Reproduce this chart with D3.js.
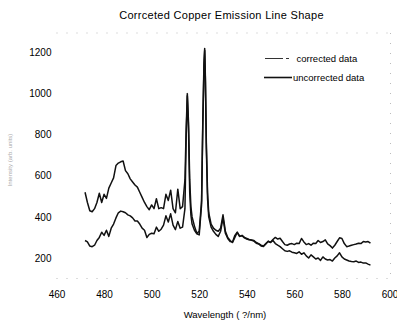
<!DOCTYPE html>
<html><head><meta charset="utf-8">
<script src="https://cdn.jsdelivr.net/npm/d3@7"></script>
<style>
html,body{margin:0;padding:0;background:#fff;}
svg{display:block;font-family:"Liberation Sans",Arial,sans-serif;}
</style></head><body>
<svg id="c" width="397" height="325"></svg>
<script>
const wavelength = [472,473,474,475,476,477,478,479,480,481,482,483,484,485,486,487,488,489,490,491,492,493,494,495,496,497,498,499,500,501,502,503,504,505,506,507,508,509,510,511,512,513,514,514.5,515,515.5,516,516.5,517,518,519,520,521,521.5,522,522.3,522.6,523,523.5,524,525,526,527,528,529,530,531,532,533,534,535,536,537,538,539,540,541,542,543,544,545,546,547,548,549,550,551,552,553,554,555,556,557,558,559,560,561,562,563,564,565,566,567,568,569,570,571,572,573,574,575,576,577,578,579,580,581,582,583,584,585,586,587,588,589,590,591,592];
const corrected = [520,470,430,425,440,470,515,470,510,490,540,565,590,650,662,668,672,625,610,585,570,555,545,520,495,470,450,435,458,440,488,440,445,440,510,480,530,440,420,535,440,450,580,820,1000,860,580,450,400,355,320,330,480,860,1150,1220,1080,760,520,420,365,345,335,330,345,410,330,300,285,275,300,325,305,310,300,295,290,288,285,275,270,262,258,270,280,275,285,270,262,255,245,235,232,235,228,225,222,230,218,225,210,200,215,205,195,200,188,205,195,190,192,185,200,210,225,205,195,190,185,183,182,185,178,180,175,176,170,165];
const uncorrected = [285,278,258,255,262,285,300,325,310,335,305,345,365,395,420,428,425,420,410,405,395,380,380,365,345,335,300,315,320,318,350,330,340,360,405,375,415,360,338,378,345,350,440,780,990,830,520,410,365,335,318,312,460,840,1130,1210,1060,730,490,400,350,330,315,305,330,395,320,295,280,278,310,325,305,308,298,292,288,286,282,272,268,258,256,268,282,276,290,300,292,296,280,265,262,268,270,265,272,270,295,278,265,270,262,272,270,285,275,280,288,268,260,248,262,280,298,295,270,255,258,262,265,268,272,270,280,278,280,272];
const xTicks = [460,480,500,520,540,560,580,600];
const yTicks = [200,400,600,800,1000,1200];
const titleText = "Corrceted Copper Emission Line Shape";
const xTitle = "Wavelength ( ?/nm)";
const yTitle = "Intensity (arb. units)";
const legendLabels = ["corrected data","uncorrected data"];

const svg = d3.select("#c");
const x = d3.scaleLinear().domain([460,600]).range([56.5,389.5]);
const y = d3.scaleLinear().domain([100,1300]).range([278.5,32]);

// faint dotted frame
const fr = svg.append("g").attr("stroke","#aaa").attr("stroke-width",0.8).attr("stroke-dasharray","1,9").attr("fill","none");
fr.append("line").attr("x1",x(460)).attr("x2",x(600)+1).attr("y1",y(1300)+1).attr("y2",y(1300)+1);
fr.append("line").attr("x1",x(460)).attr("x2",x(600)+1).attr("y1",y(100)).attr("y2",y(100));
fr.append("line").attr("x1",x(600)+1).attr("x2",x(600)+1).attr("y1",y(1300)+1).attr("y2",y(100));

// title
svg.append("text").attr("x",221.5).attr("y",19).attr("text-anchor","middle")
  .attr("font-size","11px").attr("letter-spacing","0.3px").attr("fill","#000").text(titleText);

// axes
const ya = svg.append("g").attr("transform",`translate(${x(460)},0)`)
  .call(d3.axisLeft(y).tickValues(yTicks).tickSize(0).tickPadding(5).tickFormat(d3.format("d")));
ya.select(".domain").remove();
ya.selectAll("text").attr("font-size","10px").attr("fill","#000").attr("font-family","Liberation Sans, Arial, sans-serif");

const xa = svg.append("g").attr("transform",`translate(0,${y(100)})`)
  .call(d3.axisBottom(x).tickValues(xTicks).tickSize(0).tickPadding(12).tickFormat(d3.format("d")));
xa.select(".domain").remove();
xa.selectAll("text").attr("font-size","10px").attr("fill","#000").attr("font-family","Liberation Sans, Arial, sans-serif");

// axis titles
svg.append("text").attr("x",225).attr("y",318).attr("text-anchor","middle")
  .attr("font-size","9.5px").attr("fill","#000").text(xTitle);
svg.append("text").attr("transform","translate(12,160) rotate(-90)").attr("text-anchor","middle")
  .attr("font-size","6px").attr("fill","#aaa").text(yTitle);

// lines
const line = vals => d3.line().x((d,i)=>x(wavelength[i])).y(d=>y(d))(vals);
svg.append("path").attr("d",line(uncorrected)).attr("fill","none").attr("stroke","#111").attr("stroke-width",1.5).attr("stroke-linejoin","round");
svg.append("path").attr("d",line(corrected)).attr("fill","none").attr("stroke","#111").attr("stroke-width",1.5).attr("stroke-linejoin","round");

// legend
const lg = svg.append("g");
lg.append("line").attr("x1",265).attr("x2",283).attr("y1",58.5).attr("y2",58.5).attr("stroke","#333").attr("stroke-width",1);
lg.append("line").attr("x1",286).attr("x2",289).attr("y1",58.5).attr("y2",58.5).attr("stroke","#333").attr("stroke-width",1);
lg.append("line").attr("x1",264).attr("x2",292).attr("y1",77.5).attr("y2",77.5).attr("stroke","#111").attr("stroke-width",1.6);
lg.append("text").attr("x",296.5).attr("y",62).attr("font-size","9.5px").attr("fill","#000").text(legendLabels[0]);
lg.append("text").attr("x",293).attr("y",81).attr("font-size","9.5px").attr("fill","#000").text(legendLabels[1]);
</script>
</body></html>
